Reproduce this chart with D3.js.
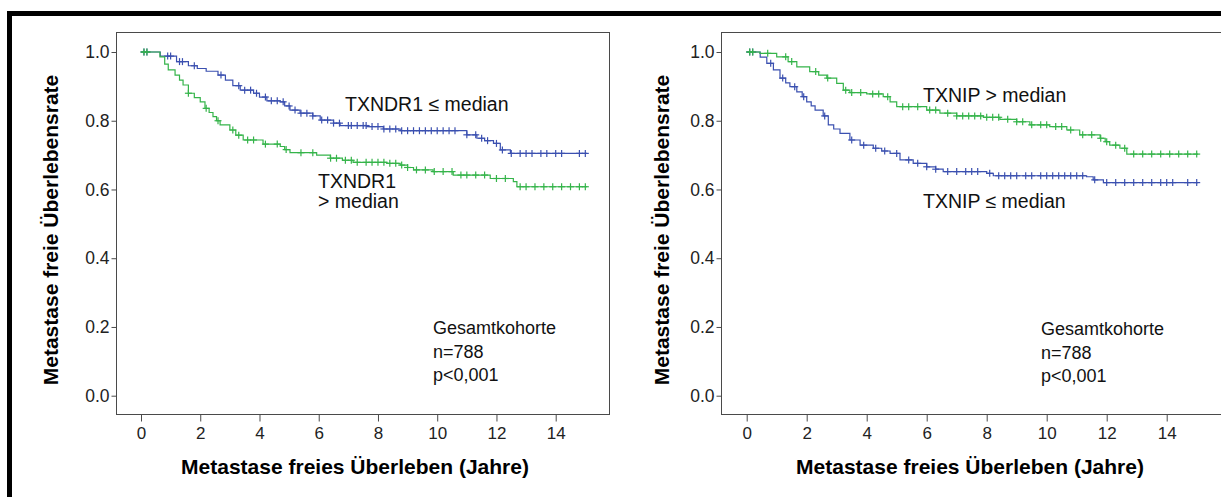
<!DOCTYPE html>
<html>
<head>
<meta charset="utf-8">
<script src="https://cdn.jsdelivr.net/npm/d3@7"></script>
<style>
  body { margin: 0; background: #fff; }
  text { font-family: "Liberation Sans", Arial, sans-serif; }
</style>
</head>
<body>
<svg id="chart"></svg>
<script>
const width = 1221;
const height = 497;

const BLUE = "#3b50b0";
const GREEN = "#35b44a";

const yTicks = [0, 0.2, 0.4, 0.6, 0.8, 1.0];
const xTicks = [0, 2, 4, 6, 8, 10, 12, 14];

// Kaplan-Meier steps: [time, survival after the drop]
const txndrLowSteps = [[0, 1], [0.65, 0.988], [1.2, 0.972], [1.6, 0.96], [1.9, 0.952], [2.2, 0.944],
  [2.6, 0.933], [2.85, 0.918], [3.1, 0.902], [3.35, 0.889], [3.8, 0.88], [4.0, 0.869], [4.25, 0.858],
  [4.7, 0.855], [4.85, 0.843], [5.03, 0.831], [5.37, 0.822], [5.8, 0.814], [6.05, 0.802],
  [6.5, 0.793], [6.72, 0.786], [7.62, 0.783], [8.18, 0.776], [8.75, 0.771], [11.0, 0.759],
  [11.34, 0.749], [11.6, 0.742], [11.9, 0.734], [12.13, 0.715], [12.47, 0.705], [15.06, 0.705]];
const txndrHighSteps = [[0, 1], [0.64, 0.986], [0.8, 0.965], [0.92, 0.948], [1.15, 0.933], [1.3, 0.918],
  [1.42, 0.904], [1.6, 0.88], [1.8, 0.867], [2.0, 0.855], [2.16, 0.836], [2.3, 0.824], [2.43, 0.812],
  [2.55, 0.8], [2.67, 0.788], [3.0, 0.773], [3.2, 0.758], [3.45, 0.744], [4.12, 0.732],
  [4.7, 0.725], [4.85, 0.716], [5.03, 0.707], [5.93, 0.7], [6.39, 0.691], [6.8, 0.685], [7.16, 0.679],
  [8.3, 0.676], [8.75, 0.671], [9.0, 0.664], [9.2, 0.657], [9.86, 0.652], [10.54, 0.642], [11.79, 0.632],
  [12.57, 0.623], [12.69, 0.608], [15.06, 0.608]];
const txnipHighSteps = [[0, 1], [0.44, 0.996], [1.0, 0.986], [1.38, 0.972], [1.67, 0.957], [2.1, 0.943],
  [2.4, 0.933], [2.67, 0.924], [3.0, 0.909], [3.22, 0.889], [3.44, 0.882], [4.0, 0.878], [4.55, 0.87],
  [4.78, 0.855], [5.0, 0.841], [6.0, 0.831], [6.44, 0.822], [7.0, 0.814], [7.89, 0.81], [8.44, 0.804],
  [9.0, 0.797], [9.44, 0.788], [10.1, 0.783], [10.67, 0.773], [11.1, 0.759], [11.78, 0.749],
  [11.95, 0.739], [12.1, 0.729], [12.44, 0.72], [12.67, 0.703], [15.05, 0.703]];
const txnipLowSteps = [[0, 1], [0.45, 0.985], [0.67, 0.967], [0.89, 0.948], [1.11, 0.924], [1.3, 0.91],
  [1.44, 0.899], [1.67, 0.884], [1.85, 0.87], [2.0, 0.855], [2.15, 0.843], [2.28, 0.831], [2.55, 0.814],
  [2.72, 0.788], [2.9, 0.776], [3.11, 0.763], [3.44, 0.744], [3.78, 0.729], [4.22, 0.72], [4.5, 0.712],
  [4.78, 0.705], [5.11, 0.686], [5.55, 0.676], [6.0, 0.666], [6.3, 0.659], [6.55, 0.652],
  [8.0, 0.647], [8.22, 0.64], [11.33, 0.637], [11.55, 0.628], [11.89, 0.62], [15.05, 0.62]];

// censoring times (+ marks)
const txndrLowCensor = [0.1, 0.2, 0.9, 1.0, 1.3, 1.4, 1.8, 2.7, 3.3, 3.5, 3.7, 3.9, 4.2, 4.4, 4.6, 4.8, 5.0,
  5.2, 5.4, 5.6, 5.8, 6.1, 6.3, 6.5, 6.7, 7.0, 7.1, 7.3, 7.5, 7.6, 7.8, 8.0, 8.2, 8.4, 8.6, 8.8, 9.0, 9.2,
  9.4, 9.6, 9.8, 10.0, 10.2, 10.4, 10.6, 11.0, 11.3, 11.5, 11.7, 12.0, 12.2, 12.5, 12.8, 13.0, 13.2, 13.5,
  13.7, 14.0, 14.2, 14.8, 15.0];
const txndrHighCensor = [0.1, 0.2, 1.6, 2.2, 2.6, 3.1, 3.3, 3.6, 3.8, 4.2, 4.6, 4.9, 5.4, 5.8, 6.4, 6.6,
  6.9, 7.1, 7.3, 7.6, 7.8, 8.0, 8.2, 8.4, 8.6, 8.8, 9.0, 9.3, 9.6, 9.9, 10.2, 10.5, 10.8, 11.0, 11.3, 11.6,
  12.0, 12.3, 12.8, 13.0, 13.3, 13.6, 13.9, 14.2, 14.5, 14.8, 15.0];
const txnipHighCensor = [0.1, 0.2, 0.7, 1.3, 1.5, 2.3, 2.7, 3.3, 3.5, 3.8, 4.2, 4.4, 4.7, 5.2, 5.4, 5.7,
  6.1, 6.3, 6.7, 7.0, 7.2, 7.4, 7.6, 7.8, 8.0, 8.2, 8.4, 8.7, 9.0, 9.2, 9.5, 9.8, 10.0, 10.3, 10.5, 10.8,
  11.2, 11.5, 11.8, 12.0, 12.3, 12.6, 12.9, 13.2, 13.5, 13.8, 14.1, 14.4, 14.7, 15.0];
const txnipLowCensor = [0.1, 0.2, 0.8, 1.2, 1.6, 1.9, 2.6, 3.5, 3.9, 4.3, 4.6, 5.0, 5.4, 5.7, 6.0, 6.3,
  6.7, 7.0, 7.3, 7.5, 7.7, 8.1, 8.4, 8.6, 8.8, 9.0, 9.3, 9.5, 9.8, 10.0, 10.2, 10.4, 10.6, 10.8, 11.0,
  11.2, 11.6, 12.0, 12.3, 12.6, 12.9, 13.2, 13.5, 13.8, 14.0, 14.2, 14.7, 15.0];

const cohortText = ["Gesamtkohorte", "n=788", "p<0,001"];

const svg = d3.select("#chart")
  .attr("width", width)
  .attr("height", height);

// thick outer frame, runs off the right and bottom edges
svg.append("rect")
  .attr("x", 9.5).attr("y", 13.5)
  .attr("width", 1300).attr("height", 600)
  .attr("fill", "none")
  .attr("stroke", "#000")
  .attr("stroke-width", 5);

function drawPanel(p) {
  const x = d3.scaleLinear().domain([0, 14]).range([p.x0, p.x14]);
  const y = d3.scaleLinear().domain([0, 1]).range([395.7, 52]);
  const g = svg.append("g");

  // plot frame
  g.append("rect")
    .attr("x", p.left + 0.5).attr("y", 32.5)
    .attr("width", p.right - p.left).attr("height", 414.5 - 32.5)
    .attr("fill", "none")
    .attr("stroke", "#4a4a4a")
    .attr("stroke-width", 1);

  const yAxis = g.append("g")
    .attr("transform", `translate(${p.left + 0.5},0)`)
    .call(d3.axisLeft(y).tickValues(yTicks).tickFormat(d3.format(".1f")).tickSize(5).tickPadding(2));
  yAxis.select(".domain").remove();
  yAxis.selectAll("line").attr("stroke", "#4a4a4a");
  yAxis.selectAll("text").attr("font-size", 17.5).attr("fill", "#222")
    .attr("font-family", "Liberation Sans, Arial, sans-serif");

  const xAxis = g.append("g")
    .attr("transform", "translate(0,414.5)")
    .call(d3.axisBottom(x).tickValues(xTicks).tickSize(7).tickPadding(5));
  xAxis.select(".domain").remove();
  xAxis.selectAll("line").attr("stroke", "#4a4a4a");
  xAxis.selectAll("text").attr("font-size", 17).attr("fill", "#222")
    .attr("font-family", "Liberation Sans, Arial, sans-serif");

  // axis titles
  g.append("text")
    .attr("transform", `translate(${p.yTitleX},230) rotate(-90)`)
    .attr("text-anchor", "middle")
    .attr("dominant-baseline", "central")
    .attr("font-size", 21).attr("font-weight", "bold")
    .text("Metastase freie Überlebensrate");
  g.append("text")
    .attr("x", p.xTitleX).attr("y", 474)
    .attr("text-anchor", "middle")
    .attr("font-size", 21).attr("font-weight", "bold")
    .text("Metastase freies Überleben (Jahre)");

  const line = d3.line()
    .x(d => x(d[0]))
    .y(d => y(d[1]))
    .curve(d3.curveStepAfter);

  const bis = d3.bisector(d => d[0]).right;

  p.series.forEach(s => {
    g.append("path")
      .attr("d", line(s.steps))
      .attr("fill", "none")
      .attr("stroke", s.color)
      .attr("stroke-width", 1.2);

    const marks = g.append("g").attr("stroke", s.color).attr("stroke-width", 1.2);
    s.censor.forEach(t => {
      const i = Math.max(0, bis(s.steps, t) - 1);
      const cx = x(t), cy = y(s.steps[i][1]);
      marks.append("line").attr("x1", cx - 3.5).attr("x2", cx + 3.5).attr("y1", cy).attr("y2", cy);
      marks.append("line").attr("x1", cx).attr("x2", cx).attr("y1", cy - 3.5).attr("y2", cy + 3.5);
    });
  });

  p.labels.forEach(l => {
    g.append("text")
      .attr("x", l.x).attr("y", l.y)
      .attr("font-size", 19.5).attr("fill", "#111")
      .text(l.text);
  });

  cohortText.forEach((t, i) => {
    g.append("text")
      .attr("x", p.cohortX).attr("y", p.cohortY + i * 23.5)
      .attr("font-size", 18).attr("fill", "#111")
      .text(t);
  });
}

drawPanel({
  left: 116, right: 609, x0: 141, x14: 555.7,
  yTitleX: 50, xTitleX: 355,
  cohortX: 433, cohortY: 334,
  series: [
    { steps: txndrLowSteps, censor: txndrLowCensor, color: BLUE },
    { steps: txndrHighSteps, censor: txndrHighCensor, color: GREEN }
  ],
  labels: [
    { x: 345, y: 111, text: "TXNDR1 ≤ median" },
    { x: 318, y: 188, text: "TXNDR1" },
    { x: 318, y: 208, text: "> median" }
  ]
});

drawPanel({
  left: 721, right: 1225, x0: 746.7, x14: 1166.7,
  yTitleX: 661, xTitleX: 970,
  cohortX: 1041, cohortY: 335,
  series: [
    { steps: txnipLowSteps, censor: txnipLowCensor, color: BLUE },
    { steps: txnipHighSteps, censor: txnipHighCensor, color: GREEN }
  ],
  labels: [
    { x: 923, y: 102, text: "TXNIP > median" },
    { x: 923, y: 208, text: "TXNIP ≤ median" }
  ]
});
</script>
</body>
</html>
